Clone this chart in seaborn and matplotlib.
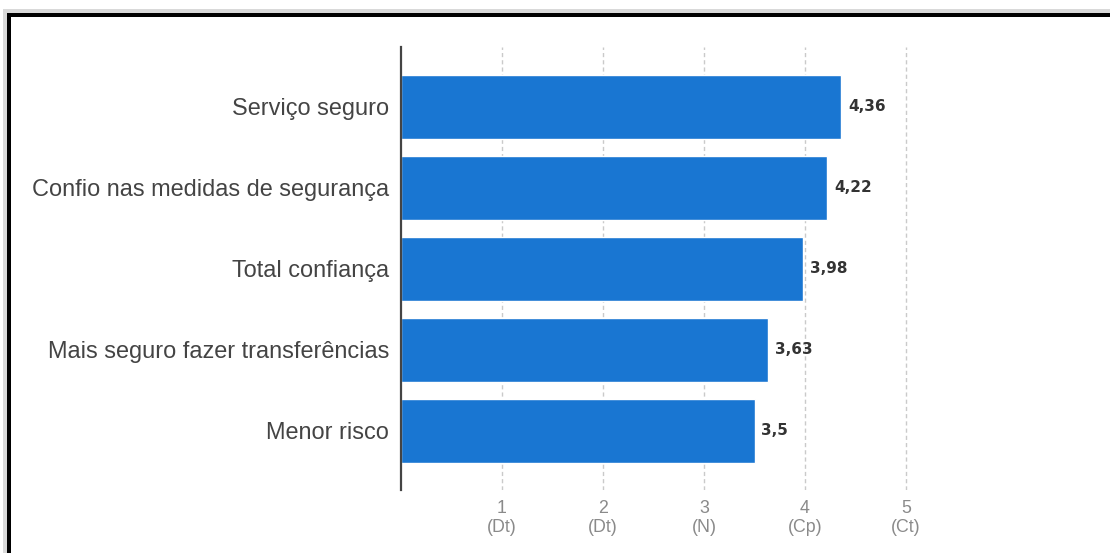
import matplotlib
matplotlib.use("Agg")
import matplotlib.pyplot as plt
from matplotlib.patches import Rectangle
import seaborn as sns
import pandas as pd

categories = ["Serviço seguro", "Confio nas medidas de segurança", "Total confiança",
              "Mais seguro fazer transferências", "Menor risco"]
values = [4.36, 4.22, 3.98, 3.63, 3.5]
tick_values = [1, 2, 3, 4, 5]
tick_labels = ["1\n(Dt)", "2\n(Dt)", "3\n(N)", "4\n(Cp)", "5\n(Ct)"]

sns.set_style("white")
plt.rcParams["font.family"] = ["Liberation Sans", "DejaVu Sans"]

W, H = 1110, 553
fig = plt.figure(figsize=(W / 100, H / 100), dpi=100)
ax = fig.add_axes([401 / W, (H - 490) / H, 606 / W, 443 / H])

df = pd.DataFrame({"categoria": categories, "valor": values})
sns.barplot(data=df, x="valor", y="categoria", orient="h", color="#1976d2",
            saturation=1, width=0.79, ax=ax, zorder=2)

ax.set_xlim(0, 6)
ax.set_ylim(4.73, -0.74)
ax.set_xlabel("")
ax.set_ylabel("")

ax.set_xticks(tick_values)
ax.set_xticklabels(tick_labels, color="#8a8a8a", fontsize=12.8, linespacing=1.15)
ax.tick_params(axis="x", length=0, pad=7)
ax.tick_params(axis="y", length=0, pad=8.6, labelsize=16.95, labelcolor="#444444")

ax.xaxis.grid(True, linestyle=(0, (3, 2.2)), color="#cacaca", linewidth=1.0)
ax.yaxis.grid(False)
ax.set_axisbelow(True)

for s in ["top", "right", "bottom"]:
    ax.spines[s].set_visible(False)
ax.spines["left"].set_color("#444444")
ax.spines["left"].set_linewidth(1.6)
ax.spines["left"].set_zorder(5)

labels = [str(v).replace(".", ",") for v in values]
ax.bar_label(ax.containers[0], labels=labels, padding=5, fontsize=11,
             fontweight="bold", family="DejaVu Sans", color="#333333")

def rect_px(x0, y0, x1, y1, color):
    # pixel coords from top-left
    fig.add_artist(Rectangle((x0 / W, 1 - y1 / H), (x1 - x0) / W, (y1 - y0) / H,
                             transform=fig.transFigure, facecolor=color,
                             edgecolor="none", zorder=10))

rect_px(3, 9, W, 13, "#d9d9d9")
rect_px(3, 9, 7, H, "#d9d9d9")
rect_px(7, 13, W, 17, "#000000")
rect_px(7, 13, 11, H, "#000000")

fig.savefig("out.png", dpi=100)
